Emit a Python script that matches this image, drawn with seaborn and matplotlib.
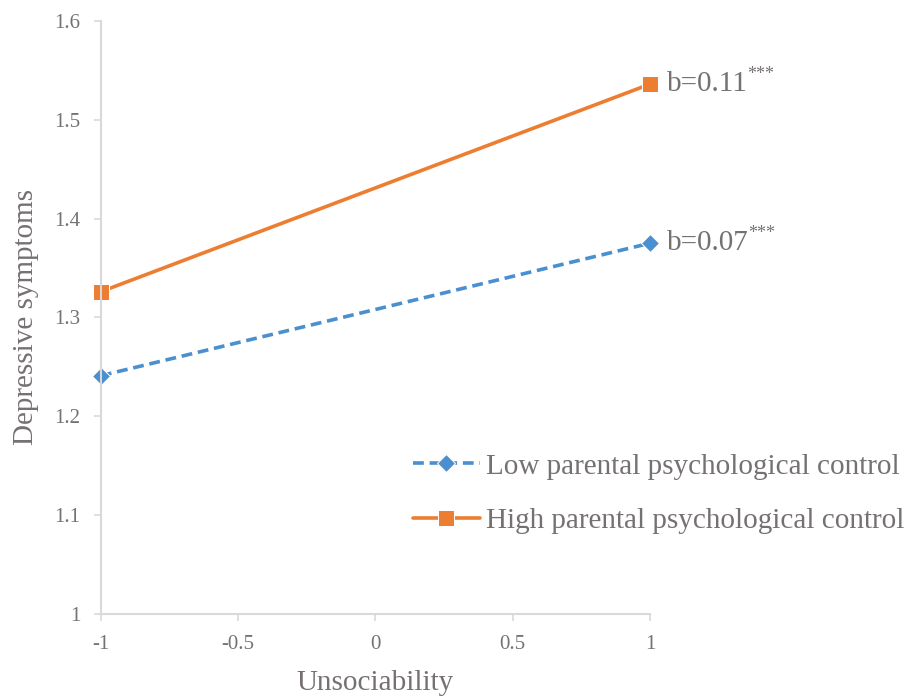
import pandas as pd
import matplotlib.pyplot as plt
import seaborn as sns

# data
unsociability = [-1, 1]
low_control = [1.241, 1.375]
high_control = [1.326, 1.536]
groups = ['Low parental psychological control', 'High parental psychological control']
slopes = ['b=0.07', 'b=0.11']

df = pd.DataFrame({
    'Unsociability': unsociability * 2,
    'Depressive symptoms': low_control + high_control,
    'group': [groups[0]] * 2 + [groups[1]] * 2,
})

sns.set_theme(style='white')
plt.rcParams['font.family'] = ['Liberation Serif', 'DejaVu Serif']
grey = '#767171'
palette = {groups[0]: '#4a8fcf', groups[1]: '#ed7d31'}

fig = plt.figure(figsize=(9.09, 6.96), dpi=100)
ax = fig.add_axes([0.111, 0.118, 0.604, 0.852])

sns.lineplot(data=df, x='Unsociability', y='Depressive symptoms', hue='group',
             style='group', palette=palette,
             dashes={groups[0]: (3, 1.6), groups[1]: ''},
             markers={groups[0]: 'D', groups[1]: 's'},
             markersize=11, linewidth=2.6, ax=ax, legend=True)
for line in ax.lines:
    line.set_clip_on(False)
    if line.get_marker() == 'D':
        line.set_markersize(9)

ax.set_xlim(-1, 1)
ax.set_ylim(1, 1.6)
ax.set_xticks([-1, -0.5, 0, 0.5, 1])
ax.set_xticklabels(['-1', '-0.5', '0', '0.5', '1'])
ax.set_yticks([1, 1.1, 1.2, 1.3, 1.4, 1.5, 1.6])
ax.set_yticklabels(['1', '1.1', '1.2', '1.3', '1.4', '1.5', '1.6'])
ax.tick_params(axis='both', colors='#d9d9d9', labelcolor=grey, labelsize=15,
               direction='out', length=5, width=1.2, left=True, bottom=True, pad=10)
for side in ['top', 'right']:
    ax.spines[side].set_visible(False)
for side in ['left', 'bottom']:
    ax.spines[side].set_color('#d9d9d9')
    ax.spines[side].set_linewidth(1.5)
ax.set_xlabel('Unsociability', fontsize=21, color=grey, labelpad=12)
ax.set_ylabel('Depressive symptoms', fontsize=21, color=grey, labelpad=11)

# slope labels with superscript stars
fig.canvas.draw()
renderer = fig.canvas.get_renderer()
for ys, s in [(low_control, slopes[0]), (high_control, slopes[1])]:
    t = ax.annotate(s, xy=(unsociability[-1], ys[-1]), xytext=(12, 0),
                    textcoords='offset points', va='center', ha='left',
                    fontsize=21, color=grey, annotation_clip=False)
    w = t.get_window_extent(renderer).width * 72 / fig.dpi
    ax.annotate('***', xy=(unsociability[-1], ys[-1]), xytext=(12 + w, 1),
                textcoords='offset points', va='bottom', ha='left',
                fontsize=13, color=grey, annotation_clip=False)

handles, labels = ax.get_legend_handles_labels()
ax.legend(handles, labels, loc='center left', bbox_to_anchor=(0.52, 0.203),
          frameon=False, fontsize=21, labelcolor=grey, handlelength=2.3,
          handletextpad=0.2, labelspacing=0.95)

plt.savefig('out.png', dpi=100)
